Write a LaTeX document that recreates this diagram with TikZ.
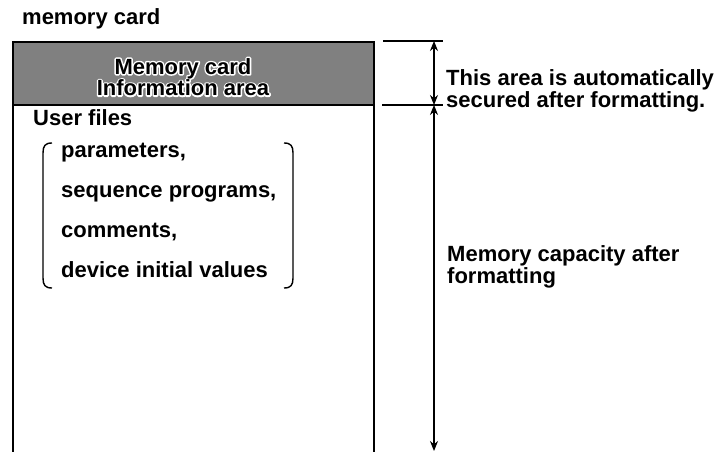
\documentclass[tikz,border=0pt]{standalone}
\usepackage{fontspec}
\setmainfont{Liberation Sans}
\usepackage{tikz}
\usetikzlibrary{arrows.meta,calc}
% white outline behind the text (stroke and fill)
\newcommand\halotext[1]{\special{pdf:literal direct q 2 Tr 3 w 1 j 1 J 1 1 1 RG}{\color{white}#1}\special{pdf:literal direct Q}}

\begin{document}
\begin{tikzpicture}[x=1pt,y=-1pt,font=\bfseries\fontsize{22}{20}\selectfont,
  frame/.style={line width=1.8pt,draw=black},
  extline/.style={line width=1.1pt,draw=black},
  dimarr/.style={{Stealth[length=10pt,width=8pt]}-{Stealth[length=10pt,width=8pt]},line width=1.1pt},
  brk/.style={line width=1.4pt,draw=black},
  lbl/.style={anchor=base west,inner sep=0pt,align=left},
  infotxt/.style={align=center,inner sep=0pt,font=\bfseries\fontsize{22}{20}\selectfont}]
\definecolor{cardgray}{gray}{0.5}
\useasboundingbox (0,0) rectangle (723,452);
\node[lbl] (title) at (22,25) {memory card};
% card outline, open at the bottom
\fill[cardgray] (13,42) rectangle (374,105);
\draw[frame] (13,452) -- (13,42) -- (374,42) -- (374,452);
\draw[frame] (13,105) -- (374,105);
\node[infotxt] (infohalo) at (183,77) {\halotext{Memory card}\\\halotext{Information area}};
\node[infotxt] (info) at (183,77) {Memory card\\Information area};
\node[lbl] (user) at (33,125) {User files};
\node[lbl,font=\bfseries\fontsize{22}{40}\selectfont] (files) at (61,277)
  {parameters,\\sequence programs,\\comments,\\device initial values};
\draw[brk] (52,143) .. controls (45,143) and (43,146) .. (43,153) -- (43,278)
  .. controls (43,285) and (45,288) .. (52,288);
\draw[brk] (284,143) .. controls (291,143) and (293,146) .. (293,153) -- (293,278)
  .. controls (293,285) and (291,288) .. (284,288);
% dimension lines
\draw[extline] (383,41) -- (443,41);
\draw[extline] (382,105) -- (443,105);
\coordinate (dtop) at (434,41);
\coordinate (dmid) at (434,105);
\coordinate (dbot) at (434,451);
\draw[dimarr] (dtop) -- (dmid);
\draw[dimarr] (dmid) -- (dbot);
\node[lbl] (secured) at (446,107) {This area is automatically\\secured after formatting.};
\node[lbl] (capacity) at (447,283) {Memory capacity after\\formatting};
\end{tikzpicture}
\end{document}
